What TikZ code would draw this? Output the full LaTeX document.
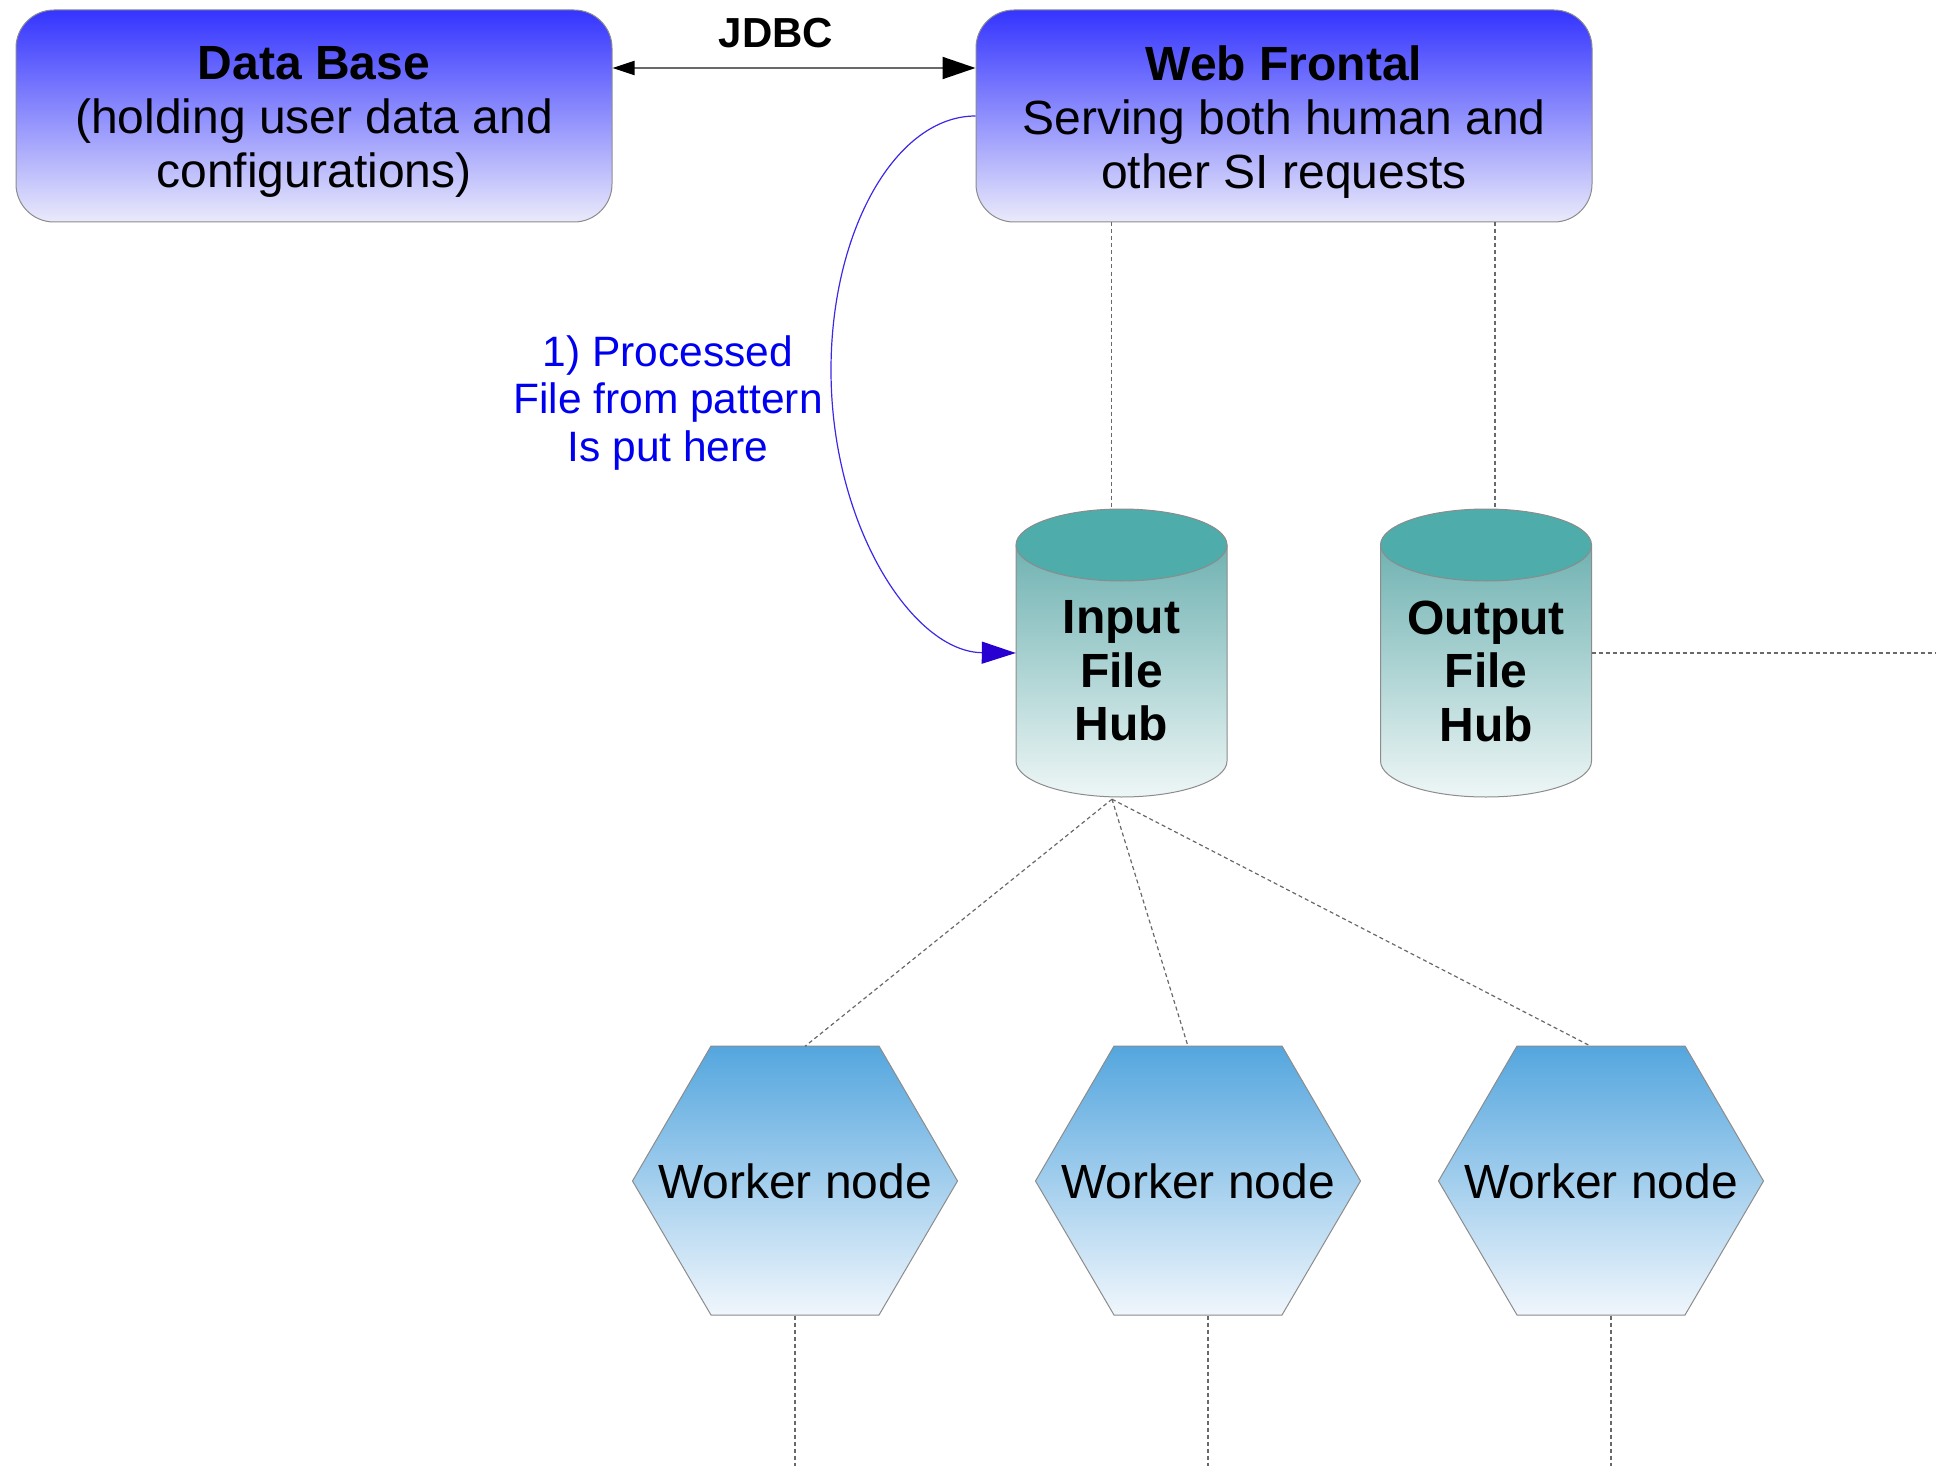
\documentclass[tikz,border=0pt]{standalone}
\usepackage{fontspec}
\setmainfont{Liberation Sans}
\usetikzlibrary{arrows.meta}

\definecolor{boxtop}{RGB}{52,52,255}
\definecolor{boxbot}{RGB}{234,234,251}
\definecolor{edgegray}{RGB}{140,140,140}
\definecolor{hubcap}{RGB}{78,172,170}
\definecolor{hubtop}{RGB}{112,178,178}
\definecolor{hubbot}{RGB}{238,246,246}
\definecolor{hextop}{RGB}{84,166,222}
\definecolor{hexbot}{RGB}{240,246,252}
\definecolor{notecol}{RGB}{0,0,240}
\definecolor{curvecol}{RGB}{60,40,230}
\definecolor{tipcol}{RGB}{40,0,210}
\definecolor{linkgray}{RGB}{105,105,105}

\tikzset{
  panel/.style={rectangle, rounded corners=38pt, draw=edgegray, line width=1pt,
    top color=boxtop, bottom color=boxbot, minimum height=212pt, inner sep=0pt},
  paneltext/.style={align=center, font=\fontsize{48}{54}\selectfont},
  hubshape/.style={rectangle, inner sep=0pt, minimum width=211pt, minimum height=288pt},
  hubbody/.style={draw=edgegray, line width=1pt, top color=hubtop, bottom color=hubbot},
  hubcapfill/.style={draw=edgegray, line width=1pt, fill=hubcap},
  hubtext/.style={align=center, font=\fontsize{48}{53.5}\selectfont\bfseries},
  hexfill/.style={draw=edgegray, line width=1pt, top color=hextop, bottom color=hexbot},
  workerbox/.style={rectangle, inner sep=0pt, minimum width=325pt, minimum height=269pt,
    font=\fontsize{48}{54}\selectfont},
  link/.style={draw=linkgray, line width=1.2pt, dash pattern=on 4pt off 3pt},
  note/.style={align=center, text=notecol, font=\fontsize{42.5}{47.5}\selectfont},
}

\begin{document}
\begin{tikzpicture}[x=1pt, y=-1pt]
\useasboundingbox (0,0) rectangle (1936,1466);
\coordinate (floor) at (0,1466);

% top boxes
\node[panel, minimum width=596pt] (db)  at (314,116)  {};
\node[paneltext] at ([yshift=-6pt]db.center) {{\bfseries Data Base}\\(holding user data and\\configurations)};
\node[panel, minimum width=616pt] (web) at (1284,116) {};
\node[paneltext] at ([yshift=-6pt]web.center) {{\bfseries Web Frontal}\\Serving both human and\\other SI requests};

% JDBC link
\node[anchor=base, font=\fontsize{42}{48}\selectfont\bfseries] (jdbc) at (776,48) {JDBC};
\draw[draw=linkgray, line width=2pt,
      {Triangle[length=22pt,width=14pt,color=black]}-{Triangle[length=33pt,width=22pt,color=black]}]
  ([yshift=48pt]db.east) -- ([yshift=48pt]web.west);

% file hubs
\foreach \nm/\cx/\txt in {ih/1121.5/Input, oh/1486/Output} {
  \path[hubbody] (\cx-105.5,545) -- (\cx-105.5,761)
    arc[start angle=180, end angle=0, x radius=105.5, y radius=36] -- (\cx+105.5,545) -- cycle;
  \path[hubcapfill] (\cx,545) ellipse [x radius=105.5, y radius=36];
  \node[hubshape] (\nm) at (\cx,653) {};
  \node[hubtext] at (\cx,671) {\txt\\File\\Hub};
}

% worker nodes
\foreach \nm/\cx in {w1/795, w2/1198, w3/1601} {
  \path[hexfill] (\cx-162.5,1181) -- (\cx-84,1046) -- (\cx+84,1046) -- (\cx+162.5,1181)
    -- (\cx+84,1315) -- (\cx-84,1315) -- cycle;
  \node[workerbox] (\nm) at (\cx,1181) {Worker node};
}

% dashed links
\coordinate (ihtop) at ([xshift=-10pt]ih.north);
\coordinate (ohtop) at ([xshift=9pt]oh.north);
\draw[link] (ihtop |- web.south) -- (ihtop);
\draw[link] (ohtop |- web.south) -- (ohtop);
\coordinate (edgeR) at (1936,653);
\draw[link] (oh.east) -- (edgeR);

\coordinate (ihbot) at ([xshift=-9.5pt, yshift=-2pt]ih.south);
\draw[link] (ihbot) -- ([xshift=10pt]w1.north);
\draw[link] (ihbot) -- ([xshift=-10pt]w2.north);
\draw[link] (ihbot) -- ([xshift=-10pt]w3.north);

\draw[link] (w1.south) -- (w1.south |- floor);
\draw[link] ([xshift=10pt]w2.south) -- ([xshift=10pt]w2.south |- floor);
\draw[link] ([xshift=10pt]w3.south) -- ([xshift=10pt]w3.south |- floor);

% processed file flow
\node[note] (lbl) at (668,403) {1) Processed\\File from pattern\\Is put here};
\draw[draw=curvecol, line width=1.2pt, -{Triangle[length=34pt,width=22pt,color=tipcol]}]
  (web.west) .. controls (896,116) and (831,230) .. (831,370)
             .. controls (831,526) and (913,652) .. (ih.west);
\end{tikzpicture}
\end{document}
